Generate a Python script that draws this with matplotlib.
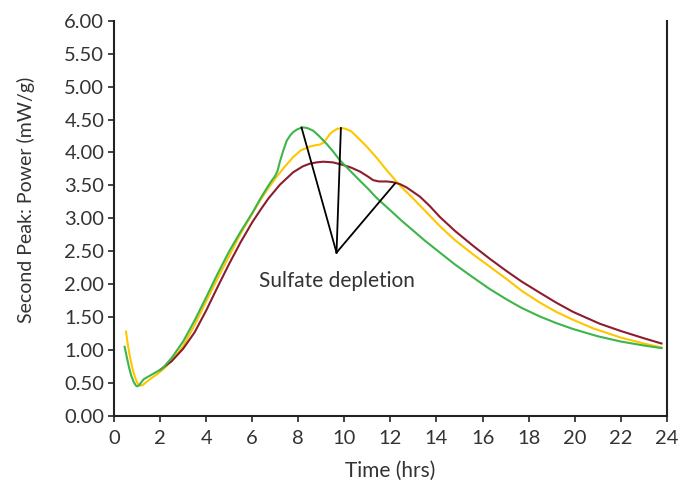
import matplotlib
matplotlib.use('Agg')
import matplotlib.pyplot as plt

green_t = [0.46, 0.55, 0.65, 0.75, 0.85, 0.95, 1.02, 1.1, 1.2, 1.3, 1.45, 1.65, 1.85, 2.1, 2.5, 3.0,
           3.5, 4.0, 4.5, 5.0, 5.5, 6.0, 6.34, 6.6, 6.8, 6.99, 7.1, 7.2, 7.35, 7.5, 7.65, 7.78,
           7.95, 8.1, 8.22, 8.4, 8.65, 8.9, 9.23, 9.5, 9.81, 10.2, 10.68, 11.0, 11.4, 12.0,
           12.5, 13.0, 13.5, 14.15, 14.8, 15.6, 16.3, 17.04, 17.7, 18.49, 19.2, 19.93, 21.0,
           22.0, 23.0, 23.77]
green_y = [1.05, 0.90, 0.74, 0.61, 0.52, 0.46, 0.45, 0.47, 0.52, 0.56, 0.59, 0.63, 0.67, 0.72, 0.88, 1.13,
           1.45, 1.80, 2.16, 2.50, 2.80, 3.08, 3.29, 3.44, 3.55, 3.64, 3.72, 3.86, 4.03, 4.18, 4.26, 4.31,
           4.35, 4.37, 4.38, 4.37, 4.33, 4.25, 4.13, 4.02, 3.88, 3.74, 3.57, 3.46, 3.31, 3.12,
           2.96, 2.81, 2.66, 2.48, 2.30, 2.10, 1.93, 1.77, 1.64, 1.51, 1.41, 1.32, 1.21,
           1.13, 1.07, 1.03]

yellow_t = [0.52, 0.6, 0.7, 0.8, 0.9, 1.0, 1.08, 1.15, 1.25, 1.42, 1.65, 1.9, 2.2, 2.5, 3.0, 3.5,
            4.0, 4.5, 5.0, 5.47, 6.0, 6.34, 6.7, 7.06, 7.4, 7.78, 8.1, 8.5, 8.75, 8.94, 9.1,
            9.23, 9.35, 9.5, 9.7, 9.88, 10.05, 10.3, 10.6, 10.97, 11.4, 11.84, 12.41, 12.99,
            13.6, 14.15, 14.8, 15.6, 16.3, 17.04, 17.7, 18.49, 19.2, 19.93, 20.8, 22.0, 23.0, 23.77]
yellow_y = [1.28, 1.08, 0.88, 0.72, 0.60, 0.51, 0.47, 0.46, 0.47, 0.52, 0.58, 0.64, 0.73, 0.84, 1.06, 1.38,
            1.74, 2.09, 2.43, 2.75, 3.07, 3.27, 3.46, 3.63, 3.78, 3.93, 4.03, 4.09, 4.11, 4.12, 4.15,
            4.21, 4.27, 4.32, 4.36, 4.37, 4.36, 4.32, 4.22, 4.09, 3.92, 3.73, 3.50, 3.30,
            3.08, 2.88, 2.67, 2.45, 2.27, 2.08, 1.90, 1.72, 1.58, 1.46, 1.33, 1.19, 1.10, 1.04]

red_t = [2.0, 2.5, 3.0, 3.5, 4.0, 4.5, 5.0, 5.5, 6.0, 6.4, 6.7, 7.2, 7.78, 8.2, 8.5, 8.8,
         9.08, 9.5, 9.95, 10.3, 10.68, 11.0, 11.25, 11.5, 11.84, 12.1, 12.41, 12.7, 12.99,
         13.28, 13.7, 14.15, 14.8, 15.6, 16.3, 17.04, 17.7, 18.49, 19.2, 19.93, 21.09,
         22.0, 23.0, 23.77]
red_y = [0.70, 0.83, 1.02, 1.27, 1.60, 1.96, 2.31, 2.64, 2.94, 3.15, 3.30, 3.51, 3.70, 3.79, 3.83, 3.85,
         3.86, 3.85, 3.81, 3.77, 3.71, 3.64, 3.58, 3.56, 3.56, 3.55, 3.52, 3.47, 3.40,
         3.33, 3.19, 3.02, 2.81, 2.58, 2.39, 2.20, 2.04, 1.87, 1.72, 1.58, 1.40,
         1.29, 1.18, 1.10]

# sulfate depletion markers: apex and the three peaks
apex = (9.66, 2.48)
peaks_t = [8.14, 9.85, 12.2]
peaks_y = [4.38, 4.37, 3.53]

xticks = list(range(0, 25, 2))
yticks = [i * 0.5 for i in range(13)]

plt.rcParams['font.family'] = ['Lato', 'DejaVu Sans']
txt = '#333333'

fig = plt.figure(figsize=(6.91, 4.82), dpi=100)
ax = fig.add_axes([0.165, 0.137, 0.800, 0.820])

ax.plot(yellow_t, yellow_y, color='#FFC600', lw=1.5, solid_joinstyle='round')
ax.plot(red_t, red_y, color='#8C1D2E', lw=1.5, solid_joinstyle='round')
ax.plot(green_t, green_y, color='#3DB54A', lw=1.5, solid_joinstyle='round')

for pt, py in zip(peaks_t, peaks_y):
    ax.plot([apex[0], pt], [apex[1], py], color='black', lw=1.3)
ax.text(9.66, 2.05, 'Sulfate depletion', ha='center', va='center', fontsize=15, color=txt)

ax.set_xlim(0, 24)
ax.set_ylim(0, 6)
ax.set_xticks(xticks)
ax.set_yticks(yticks)
ax.set_yticklabels(['%.2f' % v for v in yticks])
ax.tick_params(axis='both', direction='out', length=4, width=1.2, color='#222222',
               labelsize=14.5, labelcolor=txt, pad=3)
ax.tick_params(axis='x', pad=6)

ax.spines['top'].set_visible(False)
for s in ['left', 'bottom', 'right']:
    ax.spines[s].set_linewidth(1.5)
    ax.spines[s].set_color('#222222')

ax.set_xlabel('Time (hrs)', fontsize=15, color=txt, labelpad=10)
ax.set_ylabel('Second Peak: Power (mW/g)', fontsize=14, color=txt)
ax.yaxis.set_label_coords(-0.143, 0.546)

fig.savefig('out.png', dpi=100)
